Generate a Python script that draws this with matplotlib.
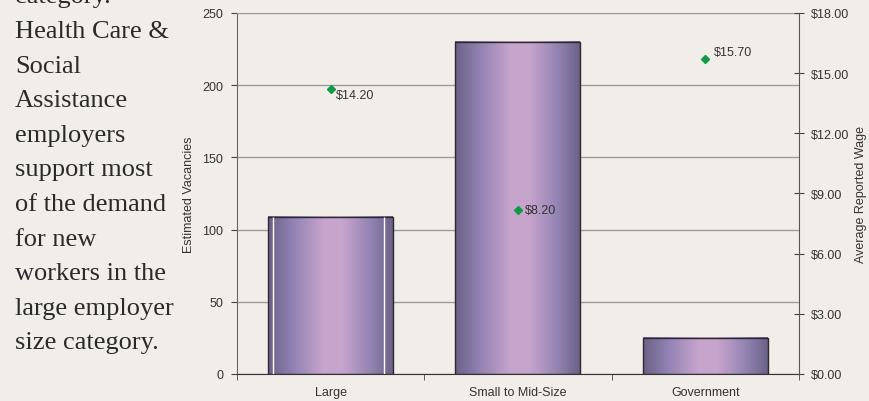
import matplotlib
matplotlib.use("Agg")
import matplotlib.pyplot as plt
import numpy as np
from matplotlib.colors import LinearSegmentedColormap
from matplotlib.ticker import FuncFormatter, MultipleLocator

# Data
categories = ["Large", "Small to Mid-Size", "Government"]
vacancies = [109, 230, 25]
wages = [14.20, 8.20, 15.70]
label_offsets = [(4, -4), (5, 0), (6, 5)]  # points, label position next to marker

note_lines = [
    "category.",
    "Health Care &",
    "Social",
    "Assistance",
    "employers",
    "support most",
    "of the demand",
    "for new",
    "workers in the",
    "large employer",
    "size category.",
]

bg = "#F1EEEA"
grid_col = "#9c9c9c"
text_col = "#333333"

plt.rcParams["font.family"] = ["Liberation Sans", "DejaVu Sans"]

fig = plt.figure(figsize=(8.69, 4.02), dpi=100, facecolor=bg)
ax = fig.add_axes([0.2727, 0.0672, 0.6467, 0.898])
ax.set_facecolor(bg)

# -----------------------------
# Gradient bars
# -----------------------------
bar_cmap = LinearSegmentedColormap.from_list(
    "bars",
    [(0.0, "#6A6288"), (0.2, "#9282B3"), (0.45, "#C8A5CD"),
     (0.6, "#C6A4CC"), (0.82, "#9484B4"), (1.0, "#6A6288")]
)
grad = np.linspace(0, 1, 256).reshape(1, -1)
width = 0.667
x = np.arange(len(categories))

for xi, v in zip(x, vacancies):
    ax.imshow(grad, extent=[xi - width / 2, xi + width / 2, 0, v],
              aspect="auto", cmap=bar_cmap, zorder=2, interpolation="bicubic")

ax.bar(x, vacancies, width, fill=False, edgecolor="#2a2a2a", linewidth=1, zorder=3)

# thin white inner border seen on the first bar
ax.vlines([x[0] - width / 2 + 0.024, x[0] + width / 2 - 0.048], 0, vacancies[0],
          color="white", linewidth=1, zorder=3)

ax.set_xlim(-0.5, len(categories) - 0.5)
ax.set_ylim(0, 250)

# Axes styling
ax.yaxis.set_major_locator(MultipleLocator(50))
ax.yaxis.grid(True, color=grid_col, linewidth=1)
ax.set_axisbelow(True)

ax.set_xticks(x)
ax.set_xticklabels(categories, fontsize=9, color=text_col)
ax.set_xticks(np.arange(len(categories) + 1) - 0.5, minor=True)
ax.tick_params(axis="x", which="major", length=0, pad=9)
ax.tick_params(axis="x", which="minor", direction="out", length=4, color="#444444")
ax.tick_params(axis="y", direction="out", length=4, pad=6, labelsize=9,
               labelcolor=text_col, color="#444444")

ax.spines["right"].set_visible(False)
ax.spines["top"].set_color(grid_col)
ax.spines["left"].set_color("#666666")
ax.spines["bottom"].set_color("#333333")

ax.set_ylabel("Estimated Vacancies", fontsize=9, color=text_col, labelpad=5)

# -----------------------------
# Wage markers (secondary axis)
# -----------------------------
ax2 = ax.twinx()
ax2.set_ylim(0, 18)
ax2.yaxis.set_major_locator(MultipleLocator(3))
ax2.yaxis.set_major_formatter(FuncFormatter(lambda v, p: f"${v:.2f}"))
ax2.tick_params(axis="y", direction="inout", length=7, pad=5, labelsize=9,
                labelcolor=text_col, color="#444444")
for side in ["left", "top", "bottom"]:
    ax2.spines[side].set_visible(False)
ax2.spines["right"].set_color("#555555")

ax2.plot(x, wages, linestyle="none", marker="D", markersize=4.5,
         color="#109A48", zorder=4)

for xi, w, off in zip(x, wages, label_offsets):
    ax2.annotate(f"${w:.2f}", (xi, w), xytext=off, textcoords="offset points",
                 ha="left", va="center", fontsize=9, color=text_col)

ax2.set_ylabel("Average Reported Wage", fontsize=9, color=text_col, labelpad=4)

# -----------------------------
# Side note text
# -----------------------------
line_step = 34.6 / 402
top_base = 1 - 3.4 / 402
for i, line in enumerate(note_lines):
    fig.text(15 / 869, top_base - i * line_step, line,
             family=["Liberation Serif", "DejaVu Serif"], fontsize=19,
             color="#2a2a2a", ha="left", va="baseline")

fig.savefig("out.png", dpi=100, facecolor=bg)
